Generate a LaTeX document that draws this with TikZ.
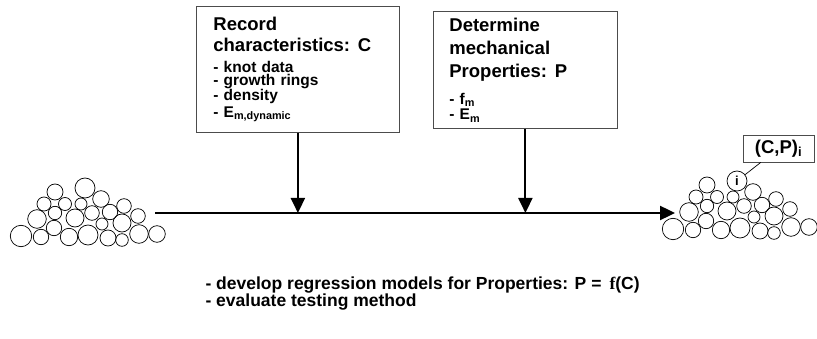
\documentclass[tikz,border=0pt]{standalone}
\usepackage{fontspec}
\setmainfont{Liberation Sans}
\newfontfamily\funcfont{Liberation Serif}
\usetikzlibrary{arrows.meta}

\tikzset{
  infobox/.style={draw=black!70, line width=0.8pt, anchor=north west, align=left,
    font=\bfseries\fontsize{15.5}{13}\selectfont},
  flow/.style={line width=2pt, -{Triangle[width=14pt,length=15pt]}},
  log/.style={line width=0.7pt},
}
\newcommand\bigline[1]{{\fontsize{18.5}{20}\selectfont #1}}
% pile of logs, top log drawn apart
\newcommand\logpile{%
  \foreach \cx/\cy/\r in {55/192/8, 101/199/8.3, 44/204/7, 65/204/6.5, 81/204/6,
      124/206/7.3, 110/212/7.7, 92/213/7.3, 55/213/6.7, 37/219/9.3, 75/218/9,
      138/216/7.3, 102/224/6, 122/223/9, 54/228/7.7, 21/236/10.7, 41/237/7.7,
      69/237/8.7, 88/235/10, 108/238/8, 122/240/6.3, 139/234/9.3, 157/234/8.3}
    \draw[log] (\cx,\cy) circle[radius=\r pt];
}

\begin{document}
\begin{tikzpicture}[x=1pt, y=-1pt]
\useasboundingbox (0,0) rectangle (817,339);

\node[infobox, minimum width=203pt, minimum height=126pt, text width=169pt, inner xsep=17pt]
  (record) at (196,6) {
\bigline{Record}\\[6.5pt]
\bigline{characteristics: C}\\[8pt]
- knot data\\
- growth rings\\
- density\\[1.5pt]
- E\textsubscript{m,dynamic}
};
\node[infobox, minimum width=184pt, minimum height=117pt, text width=152pt, inner xsep=16pt]
  (determine) at (433,11) {
\bigline{Determine}\\[9pt]
\bigline{mechanical}\\[8.5pt]
\bigline{Properties: P}\\[10.5pt]
- f\textsubscript{m}\\[2.5pt]
- E\textsubscript{m}
};

% piles before and after testing
\logpile
\draw[log] (85,188) circle[radius=10pt];
\begin{scope}[shift={(652,-7)}]
  \logpile
  \node[draw, circle, log, minimum size=20pt, inner sep=0pt,
    font=\bfseries\fontsize{13}{13}\selectfont] (piece) at (85,188) {i};
\end{scope}

\node[draw=black!70, line width=0.8pt, minimum width=71pt, minimum height=27pt,
  font=\bfseries\fontsize{18.5}{20}\selectfont] (pair) at (778.5,148.5) {(C,P)\textsubscript{i}};
\draw[line width=0.7pt] (piece) -- (pair);

\coordinate (start) at (155,213);
\coordinate (finish) at (675,213);
\draw[flow, line width=2.4pt] (start) -- (finish);
\draw[flow] (record.south) -- (record.south |- start);
\draw[flow] (determine.south) -- (determine.south |- start);

\node[anchor=base west, align=left, font=\bfseries\fontsize{17.5}{17}\selectfont]
  (tasks) at (202,306) {
- develop regression models for Properties: P =\hspace{8pt}{\funcfont f}(C)\\
- evaluate testing method
};
\end{tikzpicture}
\end{document}
